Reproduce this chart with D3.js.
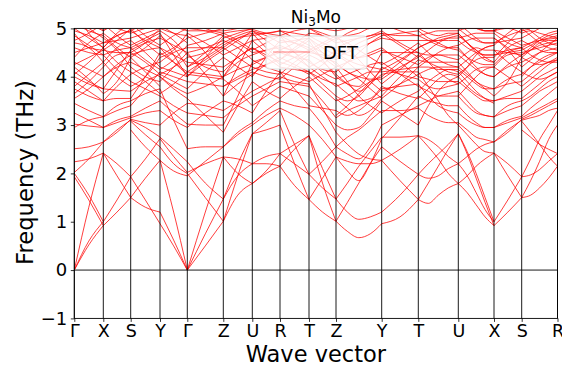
<!DOCTYPE html>
<html><head><meta charset="utf-8">
<script src="https://cdn.jsdelivr.net/npm/d3@7"></script>
<style>body{margin:0;background:#fff}svg{display:block}text{font-family:"DejaVu Sans",sans-serif}</style>
</head><body><svg id="c" width="562" height="366"></svg>
<script>
const kLabels = ["Γ","X","S","Y","Γ","Z","U","R","T","Z","Y","T","U","X","S","R"];
const kDist = [0, 0.290, 0.564, 0.857, 1.130, 1.490, 1.780, 2.057, 2.347, 2.617, 3.074, 3.440, 3.840, 4.197, 4.474, 4.832];
const yTicks = [-1, 0, 1, 2, 3, 4, 5];
const seriesName = "DFT";

// frequencies (THz) along each segment, evenly spaced samples from start to end point
const bandsGX = [
 [0,0.52,0.92],[0,0.6,1.0],[0,1.3,2.42],[1.93,1.45,0.92],[2.0,1.55,1.0],[2.02,2.3,2.65],
 [2.24,2.3,2.42],[2.51,2.55,2.65],[2.95,3.1,3.17],[3.02,2.98,2.95],[3.25,3.1,2.95],[3.45,3.3,3.17],
 [3.55,3.75,4.0],[3.75,3.6,3.5],[3.9,3.7,3.5],[4.0,3.85,3.75],[4.1,3.9,3.75],[4.3,4.15,4.0],
 [4.5,4.6,4.7],[4.6,4.5,4.45],[4.85,4.65,4.45],[4.95,4.85,4.7],[5.3,5.1,4.95],[5.6,5.3,4.95]];
const bandsXS = [
 [0.92,1.2,1.5],[1.0,1.45,1.93],[2.42,1.95,1.5],[2.42,2.2,1.93],
 [2.65,2.9,3.1],[2.65,2.85,3.12],[2.95,3.05,3.15],[2.95,3.1,3.18],[3.17,3.3,3.4],[3.17,3.4,3.5],
 [3.5,3.55,3.55],[3.5,3.8,4.05],[3.75,4.15,4.55],[3.75,3.72,3.7],[4.0,4.2,4.3],[4.0,4.25,4.45],
 [4.45,4.15,3.9],[4.45,4.55,4.6],[4.7,4.75,4.8],[4.7,4.85,4.95],[4.95,5.1,5.2],[4.95,5.2,5.5]];
const bandsSY = [
 [1.5,1.3,1.2],[1.93,1.45,0.96],[1.5,1.9,2.27],[1.93,2.3,2.72],[2.9,2.55,2.27],[3.08,2.8,2.55],
 [3.1,2.95,2.75],[3.12,3.05,3.0],[3.15,3.25,3.3],[3.18,3.35,3.5],[3.4,3.75,4.1],[3.5,3.65,3.75],
 [3.55,4.0,4.5],[3.7,3.9,4.05],[3.9,3.75,3.6],[4.05,4.2,4.3],[4.3,4.15,4.0],[4.45,4.55,4.6],
 [4.55,4.7,4.8],[4.6,4.75,4.9],[4.8,4.9,5.0],[4.95,5.1,5.2],[5.2,5.3,5.4],[5.5,5.55,5.6]];
const bandsYG = [
 [0.96,0.5,0],[1.2,0.62,0],[2.27,1.2,0],[2.27,2.05,1.95],[2.55,2.2,2.0],[2.72,2.35,2.02],
 [2.75,2.5,2.24],[3.0,3.25,3.45],[3.3,3.1,2.95],[3.5,3.25,3.02],[3.6,3.4,3.25],[3.75,3.1,2.51],
 [4.0,3.75,3.55],[4.05,3.9,3.75],[4.1,4.0,3.9],[4.3,4.5,4.6],[4.5,4.3,4.1],[4.6,4.45,4.3],
 [4.8,4.65,4.5],[4.9,4.45,4.0],[5.0,4.9,4.85],[5.2,5.05,4.95],[5.4,5.35,5.3],[5.6,5.6,5.6]];
const bandsGZ = [
 [0,0.5,1.01],[0,0.75,1.47],[0,1.2,2.34],[2.0,1.5,1.01],[2.24,1.8,1.47],[2.02,2.2,2.34],
 [1.95,2.25,2.55],[2.51,2.55,2.55],[2.95,3.25,3.5],[3.02,3.0,3.0],[3.25,3.2,3.15],[3.45,3.4,3.3],
 [3.55,3.2,2.85],[3.75,4.1,4.4],[3.9,3.85,3.8],[4.0,4.4,4.8],[4.1,4.05,4.0],[4.3,4.25,4.2],
 [4.5,4.05,3.6],[4.6,4.6,4.6],[4.85,4.5,3.95],[4.95,4.95,4.95],[5.3,5.2,5.1],[5.6,5.4,5.3]];
const bandsZU = [
 [1.01,1.55,1.79],[1.01,1.95,2.82],[1.47,1.95,2.2],[1.47,2.2,2.82],[2.34,2.0,1.79],[2.34,2.3,2.2],
 [2.55,2.8,3.0],[2.55,2.85,3.05],[2.85,3.4,3.9],[3.0,3.6,4.3],[3.15,3.4,3.6],[3.3,3.5,3.7],
 [3.5,3.4,3.25],[3.6,4.2,4.75],[3.8,4.0,4.15],[3.95,3.7,3.4],[4.0,4.3,4.45],[4.2,4.4,4.6],
 [4.4,4.2,4.0],[4.6,4.8,4.9],[4.8,4.9,5.0],[4.95,5.0,5.1],[5.1,5.2,5.3],[5.3,5.4,5.5]];
const bandsUR = [
 [1.79,2.0,2.15],[1.79,2.05,2.41],[2.2,2.2,2.15],[2.2,2.35,2.41],[2.82,3.05,3.3],[2.82,2.9,3.0],
 [3.0,3.2,3.35],[3.05,3.3,3.5],[3.25,3.7,4.1],[3.4,3.6,3.8],[3.6,3.75,3.9],[3.7,3.85,4.0],
 [3.9,3.7,3.55],[4.0,4.4,4.75],[4.15,4.25,4.35],[4.3,4.4,4.5],[4.45,4.55,4.6],[4.6,4.4,4.2],
 [4.75,4.8,4.85],[4.9,4.9,4.95],[5.0,5.05,5.1],[5.1,5.15,5.2],[5.3,5.35,5.4],[5.5,5.55,5.6]];
const bandsRT = [
 [2.15,1.75,1.46],[2.15,2.5,2.78],[2.41,2.2,1.98],[2.41,2.6,2.78],[3.0,2.2,1.46],[3.3,2.6,1.98],
 [3.35,3.2,3.0],[3.5,3.4,3.35],[3.55,3.8,4.0],[3.8,3.7,3.6],[3.9,3.85,3.8],[4.0,3.9,3.85],
 [4.1,3.75,3.4],[4.2,4.15,4.1],[4.35,4.55,4.75],[4.5,4.4,4.35],[4.6,4.55,4.5],[4.75,4.7,4.6],
 [4.85,4.5,4.2],[4.95,4.9,4.85],[5.1,5.05,5.0],[5.2,5.15,5.1],[5.4,5.35,5.3],[5.6,5.55,5.5]];
const bandsTZ = [
 [1.46,1.2,1.01],[1.98,1.7,1.47],[1.46,1.9,2.34],[2.78,2.1,1.47],[2.78,1.8,1.01],[1.98,2.25,2.55],
 [3.0,2.7,2.34],[3.35,3.0,2.55],[3.4,3.35,3.3],[3.6,3.3,3.0],[3.8,3.5,3.15],[3.85,3.35,2.85],
 [4.0,3.75,3.5],[4.1,3.85,3.6],[4.2,4.0,3.8],[4.35,4.1,3.95],[4.5,4.45,4.4],[4.6,4.4,4.2],
 [4.75,4.35,4.0],[4.85,4.7,4.6],[5.0,4.9,4.8],[5.1,5.0,4.95],[5.3,5.2,5.1],[5.5,5.4,5.3]];
const bandsZY = [
 [1.01,0.8,0.67,0.75,0.96],[1.47,1.2,1.05,1.1,1.2],[1.01,1.4,1.8,2.2,2.55],[1.47,1.8,2.15,2.45,2.75],
 [2.34,2.25,2.2,2.2,2.27],[2.34,2.05,1.85,2.2,2.72],[2.55,2.4,2.3,2.55,3.0],[2.55,2.75,2.9,3.1,3.3],
 [2.85,2.6,2.4,2.3,2.27],[3.0,2.9,2.95,3.2,3.5],[3.15,3.3,3.4,3.5,3.6],[3.3,3.2,3.3,3.5,3.75],
 [3.5,3.6,3.75,3.9,4.0],[3.6,3.5,3.6,3.85,4.05],[3.8,3.9,4.0,4.1,4.1],[3.95,4.05,4.15,4.25,4.3],
 [4.0,3.85,3.8,4.1,4.5],[4.2,4.3,4.4,4.5,4.6],[4.4,4.5,4.6,4.7,4.8],[4.6,4.7,4.8,4.85,4.9],
 [4.8,4.85,4.9,5.0,5.0],[4.95,5.0,5.1,5.15,5.2],[5.1,5.2,5.3,5.35,5.4],[5.3,5.4,5.5,5.55,5.6]];
const bandsYT = [
 [0.96,1.1,1.46],[2.27,1.85,1.46],[1.2,1.55,1.98],[2.55,2.25,1.98],[2.27,2.5,2.78],[2.75,2.75,2.78],
 [2.72,3.15,3.6],[3.5,3.25,3.0],[3.0,3.2,3.4],[3.3,3.3,3.35],[3.6,4.0,4.35],[3.75,3.8,3.85],
 [4.0,4.3,4.6],[4.05,4.1,4.1],[4.1,4.15,4.2],[4.3,4.05,3.8],[4.5,4.5,4.5],[4.6,4.3,4.0],
 [4.8,4.75,4.75],[4.9,4.85,4.85],[5.0,5.0,5.0],[5.2,5.15,5.1],[5.4,5.35,5.3],[5.6,5.55,5.5]];
const bandsTU = [
 [1.46,1.38,1.55,1.7,1.79],[1.98,1.9,1.95,2.1,2.2],[1.46,1.8,2.15,2.5,2.82],[1.98,2.2,2.4,2.6,2.82],
 [2.78,2.55,2.3,2.0,1.79],[2.78,2.7,2.55,2.35,2.2],[3.0,3.4,3.7,3.9,4.0],[3.35,3.2,3.1,3.05,3.05],
 [3.4,3.5,3.6,3.65,3.7],[3.6,3.5,3.45,3.4,3.4],[3.8,3.7,3.6,3.6,3.6],[3.85,3.6,3.4,3.3,3.25],
 [4.0,3.95,3.9,3.9,3.9],[4.1,3.8,3.5,3.2,3.0],[4.2,4.2,4.15,4.15,4.15],[4.35,4.3,4.3,4.3,4.3],
 [4.5,4.45,4.45,4.45,4.45],[4.6,4.7,4.8,4.85,4.9],[4.75,4.75,4.75,4.75,4.75],[4.85,4.75,4.65,4.6,4.6],
 [5.0,5.0,5.0,5.0,5.0],[5.1,5.1,5.1,5.1,5.1],[5.3,5.3,5.3,5.3,5.3],[5.5,5.5,5.5,5.5,5.5]];
const bandsUX = [
 [1.79,1.6,1.35,1.1,0.92],[1.79,1.95,2.15,2.3,2.42],[2.2,1.95,1.6,1.25,1.0],[2.2,2.35,2.5,2.6,2.65],
 [2.82,2.4,1.9,1.4,0.92],[2.82,2.45,2.0,1.5,1.0],[3.0,2.8,2.6,2.45,2.42],[3.05,2.9,2.75,2.7,2.65],
 [3.25,3.1,3.0,2.95,2.95],[3.4,3.2,3.05,2.95,2.95],[3.6,3.4,3.25,3.2,3.17],[3.7,3.5,3.3,3.2,3.17],
 [3.9,3.75,3.6,3.5,3.5],[4.0,3.8,3.65,3.55,3.5],[4.15,4.0,3.85,3.75,3.75],[4.3,4.1,3.9,3.8,3.75],
 [4.45,4.3,4.15,4.05,4.0],[4.6,4.4,4.2,4.05,4.0],[4.75,4.6,4.5,4.45,4.45],[4.9,4.7,4.55,4.45,4.45],
 [5.0,4.85,4.75,4.7,4.7],[5.1,4.95,4.8,4.7,4.7],[5.3,5.1,5.0,4.95,4.95],[5.5,5.3,5.1,4.95,4.95]];
const bandsXS2 = [
 [0.92,1.2,1.5],[1.0,1.45,1.93],[2.42,1.95,1.5],[2.42,2.2,1.93],
 [2.65,2.9,3.1],[2.65,2.85,3.12],[2.95,3.05,3.15],[2.95,3.1,3.18],[3.17,3.3,3.4],[3.17,3.4,3.5],
 [3.5,3.55,3.55],[3.5,3.6,3.7],[3.75,3.85,3.9],[3.75,3.95,4.05],[4.0,4.2,4.3],[4.0,4.25,4.45],
 [4.45,4.5,4.55],[4.45,4.55,4.6],[4.7,4.75,4.8],[4.7,4.85,4.95],[4.95,5.1,5.2],[4.95,5.2,5.5]];
const bandsSR = [
 [1.5,1.55,1.7,1.9,2.15],[1.93,1.97,2.08,2.25,2.41],[1.5,1.85,2.25,2.7,3.0],[1.93,2.3,2.7,3.0,3.3],
 [2.9,2.75,2.6,2.5,2.41],[3.08,2.85,2.6,2.35,2.15],[3.1,3.15,3.2,3.3,3.35],[3.12,3.2,3.3,3.4,3.5],
 [3.15,3.25,3.35,3.45,3.55],[3.18,3.35,3.5,3.65,3.8],[3.4,3.55,3.7,3.8,3.9],[3.5,3.6,3.75,3.9,4.0],
 [3.55,3.7,3.85,4.0,4.1],[3.7,3.85,4.0,4.1,4.2],[3.9,4.05,4.2,4.3,4.35],[4.05,4.2,4.3,4.4,4.5],
 [4.3,4.4,4.5,4.55,4.6],[4.45,4.55,4.65,4.7,4.75],[4.55,4.65,4.75,4.8,4.85],[4.6,4.7,4.8,4.9,4.95],
 [4.8,4.9,5.0,5.05,5.1],[4.95,5.0,5.1,5.15,5.2],[5.2,5.3,5.35,5.4,5.4],[5.5,5.55,5.6,5.6,5.6]];

// upper (dense) branches 3.5–5.5 THz per segment
const upperGX = [[3.65,3.9,4.2],[4.2,3.95,3.65],[4.25,4.4,4.55],[4.4,4.7,4.9],[4.7,4.6,4.3],[4.75,4.9,5.1],[4.9,4.6,4.55],[5.0,4.8,4.6],[5.1,4.95,4.85],[5.2,5.0,4.8],[5.4,4.9,4.6],[5.5,5.2,5.05],[4.05,4.3,4.6],[3.8,4.05,4.3]];
const upperXS = [[4.2,4.45,4.5],[3.65,3.9,4.4],[4.55,4.5,4.5],[4.9,4.7,4.6],[4.3,4.6,4.75],[5.1,4.85,4.65],[4.55,4.75,5.0],[4.6,4.9,5.1],[4.85,4.6,4.4],[4.8,4.55,4.2],[4.6,4.3,4.1],[5.05,5.0,4.9],[4.6,4.85,4.95],[4.3,4.0,3.8]];
const upperSY = [[4.5,4.3,4.05],[4.4,4.6,4.85],[4.5,4.7,5.0],[4.6,4.35,4.15],[4.75,4.5,4.2],[4.65,4.8,4.95],[5.0,4.7,4.45],[5.1,4.85,4.65],[4.4,4.1,3.8],[4.2,4.0,3.9],[4.9,5.0,5.05],[4.95,4.75,4.6],[4.1,3.9,3.65],[3.8,4.0,4.4]];
const upperYG = [[4.05,4.2,4.4],[4.85,4.6,4.2],[4.15,4.35,4.65],[4.2,4.1,4.0],[4.45,4.6,4.8],[4.95,4.75,4.45],[5.05,4.9,4.7],[4.65,4.85,5.0],[4.6,4.3,4.05],[3.65,3.85,4.1],[3.9,4.2,4.5],[4.0,3.8,3.65],[4.4,4.55,4.9],[5.0,5.1,5.2]];
const upperGZ = [[4.4,4.5,4.7],[4.2,4.5,4.85],[4.0,4.3,4.55],[4.65,4.75,4.9],[4.05,4.0,3.95],[4.5,4.6,4.75],[4.8,4.9,5.0],[4.2,4.4,4.65],[4.45,4.2,4.1],[5.0,4.95,4.85],[4.9,4.7,4.45],[3.65,3.8,4.0],[4.1,4.35,4.6],[5.2,5.0,4.9]];
const upperZU = [[4.7,4.85,4.95],[4.9,4.95,4.98],[4.55,4.75,4.95],[4.0,4.45,4.9],[4.1,4.4,4.6],[4.85,4.7,4.5],[4.45,4.6,4.75],[4.65,4.8,4.85],[4.0,4.15,4.25],[4.6,4.4,4.2],[4.75,4.6,4.35],[4.9,4.75,4.55],[3.8,3.95,4.1],[3.6,3.85,4.05]];
const upperUR = [[4.95,4.85,4.7],[4.98,4.9,4.85],[4.95,4.75,4.55],[4.9,4.6,4.35],[4.6,4.45,4.3],[4.5,4.55,4.65],[4.75,4.5,4.25],[4.85,4.9,4.95],[4.25,4.4,4.55],[4.2,4.1,4.05],[4.35,4.2,4.1],[4.55,4.7,4.85],[4.1,4.0,3.95],[4.05,4.25,4.4]];
const upperRT = [[4.7,4.75,4.8],[4.85,4.7,4.55],[4.55,4.7,4.9],[4.35,4.6,4.8],[4.3,4.2,4.05],[4.65,4.5,4.3],[4.25,4.4,4.55],[4.95,4.8,4.65],[4.55,4.4,4.2],[4.05,4.3,4.5],[4.1,4.0,3.9],[4.85,4.95,5.0],[3.95,4.2,4.45],[4.4,4.25,4.1]];
const upperTZ = [[4.8,4.6,4.45],[4.55,4.7,4.85],[4.9,4.85,4.7],[4.8,4.5,4.25],[4.05,4.25,4.5],[4.3,4.15,4.1],[4.55,4.4,4.3],[4.65,4.5,4.35],[4.2,4.35,4.55],[4.5,4.65,4.8],[3.9,4.05,4.2],[5.0,4.85,4.75],[4.45,4.3,4.05],[4.1,3.95,3.85]];
const upperZY = [[4.45,4.3,4.1,3.9,3.7],[4.85,4.6,4.35,4.1,3.85],[4.7,4.75,4.8,4.85,4.95],[4.25,4.1,3.95,3.75,3.55],[4.5,4.35,4.25,4.2,4.15],[4.1,4.3,4.5,4.7,4.85],[4.3,4.1,4.0,3.95,3.95],[4.55,4.45,4.4,4.45,4.55],[4.8,4.7,4.55,4.4,4.25],[4.35,4.55,4.7,4.8,4.9],[4.2,3.9,3.6,3.4,3.25],[3.85,3.65,3.5,3.55,3.8],[4.75,4.9,5.0,5.05,5.1],[4.05,3.85,3.7,3.85,4.2],[3.55,3.35,3.2,3.3,3.55],[3.2,3.4,3.65,3.9,4.15]];
const upperYT = [[3.7,3.85,4.05],[3.85,4.15,4.45],[4.95,4.7,4.5],[3.55,3.85,4.2],[4.15,4.35,4.6],[4.25,4.45,4.7],[3.95,4.2,4.4],[4.55,4.4,4.25],[4.2,4.05,3.95],[4.85,4.9,4.95],[4.9,4.65,4.4],[3.25,3.5,3.7],[3.8,3.65,3.55],[5.1,4.95,4.85]];
const upperTU = [[4.05,4.15,4.2,4.2,4.2],[4.45,4.3,4.2,4.1,4.05],[4.95,4.8,4.7,4.6,4.55],[4.2,4.35,4.5,4.6,4.65],[4.7,4.5,4.35,4.25,4.2],[4.4,4.55,4.7,4.8,4.85],[4.6,4.7,4.75,4.8,4.8],[4.5,4.3,4.1,3.95,3.85],[3.7,3.9,4.05,4.15,4.1],[4.85,4.9,4.95,4.95,4.95],[3.55,3.75,3.95,4.05,4.0],[3.95,3.8,3.75,3.8,3.85],[4.25,4.4,4.45,4.4,4.35],[5.0,4.9,4.85,4.9,4.9]];
const upperUX = [[4.2,4.05,3.9,3.75,3.6],[4.05,4.2,4.35,4.4,4.4],[4.55,4.4,4.3,4.25,4.25],[4.65,4.75,4.8,4.8,4.8],[4.2,4.35,4.5,4.6,4.65],[4.85,4.7,4.55,4.4,4.3],[4.8,4.85,4.9,4.9,4.9],[3.85,4.0,4.15,4.2,4.2],[4.1,3.9,3.7,3.55,3.45],[4.0,4.2,4.45,4.6,4.65],[4.35,4.5,4.6,4.55,4.55],[4.95,5.0,5.0,4.95,4.95],[4.9,4.7,4.5,4.35,4.3],[3.6,3.8,4.0,4.15,4.2]];
const upperXS2 = [[4.2,4.45,4.5],[3.6,3.9,4.4],[4.55,4.5,4.45],[4.9,4.7,4.6],[4.3,4.6,4.75],[4.95,4.8,4.65],[4.4,4.7,5.0],[4.65,4.9,5.1],[4.8,4.6,4.4],[4.8,4.55,4.2],[4.55,4.3,4.1],[4.95,5.0,4.9],[4.25,4.5,4.6],[4.2,4.0,3.8]];
const upperSR = [[4.5,4.55,4.6,4.65,4.7],[4.45,4.6,4.75,4.85,4.9],[4.65,4.7,4.75,4.78,4.8],[4.4,4.3,4.25,4.3,4.4],[4.2,4.35,4.5,4.65,4.8],[5.0,4.85,4.7,4.6,4.55],[4.6,4.45,4.35,4.3,4.3],[4.75,4.65,4.55,4.5,4.5],[4.9,4.95,4.9,4.85,4.8],[5.1,4.95,4.8,4.7,4.65],[4.0,4.2,4.35,4.45,4.5],[4.1,4.0,3.95,4.0,4.1],[3.8,3.95,4.1,4.25,4.35],[4.4,4.55,4.7,4.75,4.75]];

const segments = [
 bandsGX.concat(upperGX), bandsXS.concat(upperXS), bandsSY.concat(upperSY), bandsYG.concat(upperYG),
 bandsGZ.concat(upperGZ), bandsZU.concat(upperZU), bandsUR.concat(upperUR), bandsRT.concat(upperRT),
 bandsTZ.concat(upperTZ), bandsZY.concat(upperZY), bandsYT.concat(upperYT), bandsTU.concat(upperTU),
 bandsUX.concat(upperUX), bandsXS2.concat(upperXS2), bandsSR.concat(upperSR)];

const svg = d3.select("#c");
const L = 74.3, R = 557.5, T = 28.4, B = 318.4;
const x = d3.scaleLinear().domain([kDist[0], kDist[kDist.length-1]]).range([L, R]);
const y = d3.scaleLinear().domain([-1, 5]).range([B, T]);

svg.append("defs").append("clipPath").attr("id","clip")
  .append("rect").attr("x",L).attr("y",T).attr("width",R-L).attr("height",B-T);

const line = d3.line().x(d=>x(d[0])).y(d=>y(d[1])).curve(d3.curveMonotoneX);
const gb = svg.append("g").attr("clip-path","url(#clip)");
segments.forEach((seg, s) => {
  const k0 = kDist[s], k1 = kDist[s+1];
  seg.forEach(band => {
    const n = band.length;
    const pts = band.map((f,j)=>[k0 + (k1-k0)*j/(n-1), f]);
    gb.append("path").attr("d", line(pts)).attr("fill","none")
      .attr("stroke","#ff0000").attr("stroke-width",0.95).attr("stroke-opacity",0.8);
  });
});

svg.append("g").selectAll("line").data(kDist).join("line")
  .attr("x1",d=>x(d)).attr("x2",d=>x(d)).attr("y1",T).attr("y2",B)
  .attr("stroke","#000").attr("stroke-width",0.9);
svg.append("line").attr("x1",L).attr("x2",R).attr("y1",y(0)).attr("y2",y(0))
  .attr("stroke","#000").attr("stroke-width",0.9);
svg.append("rect").attr("x",L).attr("y",T).attr("width",R-L).attr("height",B-T)
  .attr("fill","none").attr("stroke","#000").attr("stroke-width",0.9);

const ya = svg.append("g").attr("transform",`translate(${L},0)`)
  .call(d3.axisLeft(y).tickValues(yTicks).tickSize(3.5).tickPadding(3.5)
    .tickFormat(d => d < 0 ? "\u2212" + Math.abs(d) : String(d)));
ya.select(".domain").remove();
ya.selectAll("text").attr("font-size","18px").attr("font-family","DejaVu Sans").attr("fill","#000");
ya.selectAll("line").attr("stroke","#000").attr("stroke-width",0.8);

const xa = svg.append("g").attr("transform",`translate(0,${B})`)
  .call(d3.axisBottom(x).tickValues(kDist).tickSize(3.5).tickPadding(3)
    .tickFormat((d,i)=>kLabels[i]));
xa.select(".domain").remove();
xa.selectAll("text").attr("font-size","17.5px").attr("font-family","DejaVu Sans").attr("fill","#000");
xa.selectAll("line").attr("stroke","#000").attr("stroke-width",0.8);

svg.append("text").attr("transform","translate(33,172.5) rotate(-90)")
  .attr("text-anchor","middle").attr("font-size","22.7px").text("Frequency (THz)");
svg.append("text").attr("x",(L+R)/2).attr("y",362).attr("text-anchor","middle")
  .attr("font-size","22.5px").text("Wave vector");

const t = svg.append("text").attr("x",(L+R)/2).attr("y",23).attr("text-anchor","middle").attr("font-size","17px");
t.append("tspan").text("Ni");
t.append("tspan").attr("font-size","12px").attr("dy",3).text("3");
t.append("tspan").attr("dy",-3).text("Mo");

const lg = svg.append("g");
lg.append("rect").attr("x",266).attr("y",36).attr("width",101).attr("height",33).attr("rx",3)
  .attr("fill","#fff").attr("fill-opacity",0.85).attr("stroke","#d6d6d6").attr("stroke-width",0.8);
lg.append("line").attr("x1",273).attr("x2",310).attr("y1",52).attr("y2",52)
  .attr("stroke","#ff0000").attr("stroke-opacity",0.5).attr("stroke-width",1);
lg.append("text").attr("x",323).attr("y",59).attr("font-size","18px").text(seriesName);
</script></body></html>
